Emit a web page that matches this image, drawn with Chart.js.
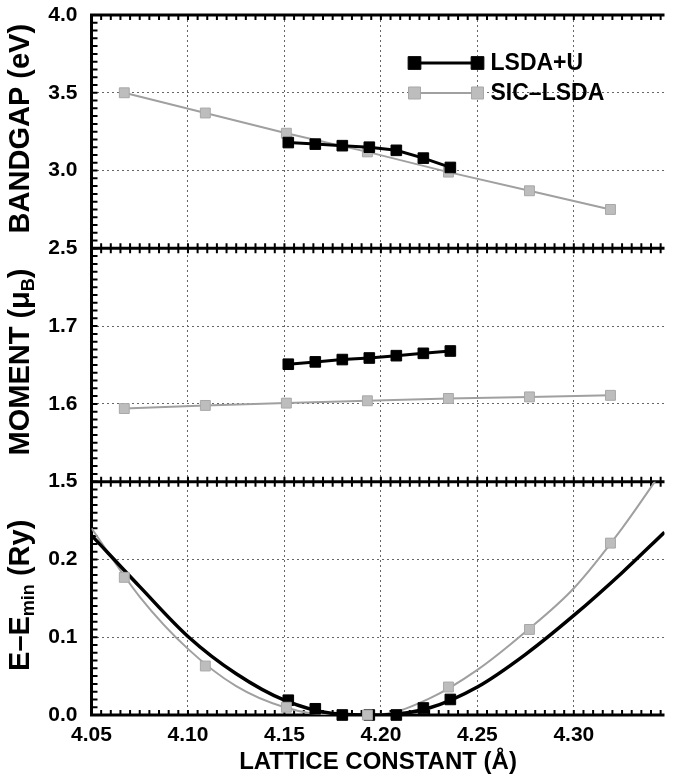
<!DOCTYPE html>
<html>
<head>
<meta charset="utf-8">
<script src="https://cdn.jsdelivr.net/npm/chart.js@4/dist/chart.umd.min.js"></script>
<style>
  html, body { margin: 0; padding: 0; background: #fff; }
  #wrap { width: 673px; height: 780px; position: relative; }
</style>
</head>
<body>
<div id="wrap"><canvas id="latticeChart"></canvas></div>
<script>
// lattice constants (Å)
const latticeU = [4.152, 4.166, 4.180, 4.194, 4.208, 4.222, 4.236];
const latticeSic = [4.067, 4.109, 4.151, 4.193, 4.235, 4.277, 4.319];

// bandgap (eV)
const gapU = [3.18, 3.17, 3.16, 3.15, 3.13, 3.08, 3.02];
const gapSic = [3.50, 3.37, 3.24, 3.12, 2.99, 2.87, 2.75];

// moment (muB)
const momentU = [1.651, 1.654, 1.657, 1.659, 1.662, 1.665, 1.668];
const momentSic = [1.594, 1.598, 1.601, 1.604, 1.607, 1.609, 1.611];

// E - Emin (Ry)
const energyU = [0.019, 0.008, 0.000, 0.000, 0.000, 0.009, 0.020];
const energySic = [0.177, 0.063, 0.010, 0.000, 0.036, 0.110, 0.221];

// fitted curves
const fitX = [4.05, 4.075, 4.10, 4.125, 4.15, 4.175, 4.20, 4.225, 4.25, 4.275, 4.30, 4.325, 4.347];
const fitU = [0.231, 0.165, 0.101, 0.053, 0.019, 0.002, 0.000, 0.009, 0.036, 0.078, 0.128, 0.183, 0.235];
const fitSic = [0.240, 0.152, 0.085, 0.037, 0.010, 0.000, 0.001, 0.021, 0.058, 0.107, 0.163, 0.240, 0.318];

// tick labels
const xTicks = [4.05, 4.10, 4.15, 4.20, 4.25, 4.30];
const gapTicks = [2.5, 3.0, 3.5, 4.0];
const momentTicks = [1.5, 1.6, 1.7];
const energyTicks = [0.0, 0.1, 0.2];

const seriesNames = ['LSDA+U', 'SIC\u2013LSDA'];

const FONT = 'Liberation Sans, Arial, sans-serif';
const BLACK = '#000000';
const GREY_LINE = '#a0a0a0';
const GREY_FILL = '#bdbdbd';

function pts(xs, ys) {
  return xs.map((x, i) => ({ x: x, y: ys[i] }));
}

function blackPts(data, yAxisID, showLine) {
  return {
    label: seriesNames[0], data: data, yAxisID: yAxisID, showLine: showLine,
    borderColor: BLACK, backgroundColor: BLACK, borderWidth: 3,
    pointStyle: 'rect', pointRadius: 7.5, pointBorderWidth: 1, pointHoverRadius: 7.5,
    clip: false, order: 1
  };
}

function greyPts(data, yAxisID, showLine) {
  return {
    label: seriesNames[1], data: data, yAxisID: yAxisID, showLine: showLine,
    borderColor: GREY_LINE, backgroundColor: GREY_FILL, borderWidth: 2,
    pointStyle: 'rect', pointRadius: 7, pointBorderWidth: 1, pointBorderColor: '#a8a8a8',
    pointHoverRadius: 7, clip: false, order: 2
  };
}

function yAxis(min, max, tickList) {
  return {
    type: 'linear', position: 'left', stack: 'panels', stackWeight: 1,
    min: min, max: max,
    afterBuildTicks: s => { s.ticks = tickList.map(v => ({ value: v })); },
    afterFit: s => { s.width = 91.5; s.paddingTop = 0; s.paddingBottom = 0; },
    ticks: {
      autoSkip: false, padding: 14, color: BLACK,
      font: { family: FONT, size: 21, weight: 'bold' },
      callback: v => Number(v).toFixed(1)
    },
    grid: {
      drawTicks: false, lineWidth: 1,
      color: c => (c.tick && (Math.abs(c.tick.value - min) < 1e-9 || Math.abs(c.tick.value - max) < 1e-9)) ? 'rgba(0,0,0,0)' : '#666'
    },
    border: { display: false, dash: [2, 3] }
  };
}

// thick frame, panel separators and inward minor ticks
const framePlugin = {
  id: 'frame',
  beforeDatasetsDraw(chart) {
    const { ctx, chartArea: a, scales } = chart;
    const xs = scales.x;
    const seps = [scales.yTop.bottom, scales.yMid.bottom];
    ctx.save();
    ctx.strokeStyle = BLACK;
    ctx.lineWidth = 2;
    const nx = Math.round((xs.max - xs.min) / 0.005);
    for (let i = 0; i <= nx; i++) {
      const px = xs.getPixelForValue(xs.min + i * 0.005);
      ctx.beginPath();
      ctx.moveTo(px, a.top); ctx.lineTo(px, a.top + 5);
      seps.forEach(y => { ctx.moveTo(px, y - 5); ctx.lineTo(px, y + 5); });
      ctx.moveTo(px, a.bottom); ctx.lineTo(px, a.bottom - 5);
      ctx.stroke();
    }
    [[scales.yTop, 0.05], [scales.yMid, 0.01], [scales.yBot, 0.01]].forEach(([s, step]) => {
      const n = Math.round((s.max - s.min) / step);
      ctx.beginPath();
      for (let i = 0; i <= n; i++) {
        const py = s.getPixelForValue(s.min + i * step);
        ctx.moveTo(a.left, py); ctx.lineTo(a.left + 6, py);
      }
      ctx.stroke();
    });
    ctx.lineWidth = 3;
    ctx.beginPath();
    ctx.moveTo(a.left, a.top - 1.5); ctx.lineTo(a.left, a.bottom + 1.5);
    [a.top].concat(seps, [a.bottom]).forEach(y => { ctx.moveTo(a.left, y); ctx.lineTo(a.right, y); });
    ctx.stroke();
    ctx.restore();
  }
};

// y titles with subscripts
const titlePlugin = {
  id: 'panelTitles',
  afterDraw(chart) {
    const { ctx, scales } = chart;
    const big = 'bold 29px ' + FONT;
    const small = 'bold 18px ' + FONT;
    const titles = [
      [scales.yTop, [['BANDGAP (eV)', 0]]],
      [scales.yMid, [['MOMENT (\u03bc', 0], ['B', 1], [')', 0]]],
      [scales.yBot, [['E\u2013E', 0], ['min', 1], [' (Ry)', 0]]]
    ];
    ctx.save();
    ctx.fillStyle = BLACK;
    ctx.textBaseline = 'middle';
    titles.forEach(([s, parts]) => {
      let total = 0;
      parts.forEach(p => { ctx.font = p[1] ? small : big; total += ctx.measureText(p[0]).width; });
      ctx.save();
      ctx.translate(21, (s.top + s.bottom) / 2 - 3);
      ctx.rotate(-Math.PI / 2);
      let x = -total / 2;
      parts.forEach(p => {
        ctx.font = p[1] ? small : big;
        ctx.fillText(p[0], x, p[1] ? 8 : 0);
        x += ctx.measureText(p[0]).width;
      });
      ctx.restore();
    });
    ctx.restore();
  }
};

// legend with a marker at both ends of the line sample
const keyPlugin = {
  id: 'key',
  afterDatasetsDraw(chart) {
    const { ctx, chartArea: a } = chart;
    const rows = [chart.data.datasets[0], chart.data.datasets[1]];
    ctx.save();
    rows.forEach((ds, i) => {
      const y = a.top + 48 + i * 30;
      const x0 = a.left + 323, x1 = x0 + 63;
      ctx.strokeStyle = ds.borderColor;
      ctx.lineWidth = ds.borderWidth;
      ctx.beginPath(); ctx.moveTo(x0, y); ctx.lineTo(x1, y); ctx.stroke();
      ctx.fillStyle = ds.backgroundColor;
      ctx.strokeStyle = ds.pointBorderColor || ds.borderColor;
      ctx.lineWidth = 1;
      [x0, x1].forEach(x => {
        Chart.helpers.drawPoint(ctx, {
          pointStyle: 'rect', radius: ds.pointRadius + 1.5, borderWidth: 1, rotation: 0
        }, x, y);
      });
      ctx.fillStyle = BLACK;
      ctx.font = 'bold 23px ' + FONT;
      ctx.textBaseline = 'middle';
      ctx.fillText(ds.label, x1 + 13, y + 1);
    });
    ctx.restore();
  }
};

const ctx = document.getElementById('latticeChart').getContext('2d');
const latticeChart = new Chart(ctx, {
  type: 'line',
  data: {
    datasets: [
      Object.assign(blackPts(pts(latticeU, gapU), 'yTop', true), { order: 0 }),
      greyPts(pts(latticeSic, gapSic), 'yTop', true),
      blackPts(pts(latticeU, momentU), 'yMid', true),
      greyPts(pts(latticeSic, momentSic), 'yMid', true),
      Object.assign(greyPts(pts(latticeSic, energySic), 'yBot', false), { order: 0 }),
      blackPts(pts(latticeU, energyU), 'yBot', false),
      {
        label: 'fit U', data: pts(fitX, fitU), yAxisID: 'yBot',
        borderColor: BLACK, borderWidth: 3.5, pointRadius: 0,
        cubicInterpolationMode: 'monotone', order: 3
      },
      {
        label: 'fit SIC', data: pts(fitX, fitSic), yAxisID: 'yBot',
        borderColor: GREY_LINE, borderWidth: 2, pointRadius: 0,
        cubicInterpolationMode: 'monotone', order: 4
      }
    ]
  },
  options: {
    responsive: true,
    maintainAspectRatio: false,
    animation: false,
    devicePixelRatio: 1,
    layout: { padding: { top: 15, right: 0, bottom: 0, left: 0 } },
    plugins: { legend: { display: false }, tooltip: { enabled: false } },
    scales: {
      x: {
        type: 'linear', min: 4.05, max: 4.347,
        afterBuildTicks: s => { s.ticks = xTicks.map(v => ({ value: v })); },
        afterFit: s => { s.height = 65; },
        ticks: {
          autoSkip: false, maxRotation: 0, padding: 8, color: BLACK,
          font: { family: FONT, size: 21, weight: 'bold' },
          callback: v => Number(v).toFixed(2)
        },
        grid: {
          drawTicks: false, lineWidth: 1,
          color: c => (c.tick && Math.abs(c.tick.value - 4.05) < 1e-9) ? 'rgba(0,0,0,0)' : '#666'
        },
        border: { display: false, dash: [2, 3] },
        title: {
          display: true, text: 'LATTICE CONSTANT (\u00c5)', color: BLACK,
          font: { family: FONT, size: 24, weight: 'bold' }, padding: { top: 2, bottom: 3 }
        }
      },
      // the last left scale defined is stacked on top
      yBot: yAxis(0.0, 0.3, energyTicks),
      yMid: yAxis(1.5, 1.8, momentTicks),
      yTop: yAxis(2.5, 4.0, gapTicks)
    }
  },
  plugins: [framePlugin, keyPlugin, titlePlugin]
});
</script>
</body>
</html>
